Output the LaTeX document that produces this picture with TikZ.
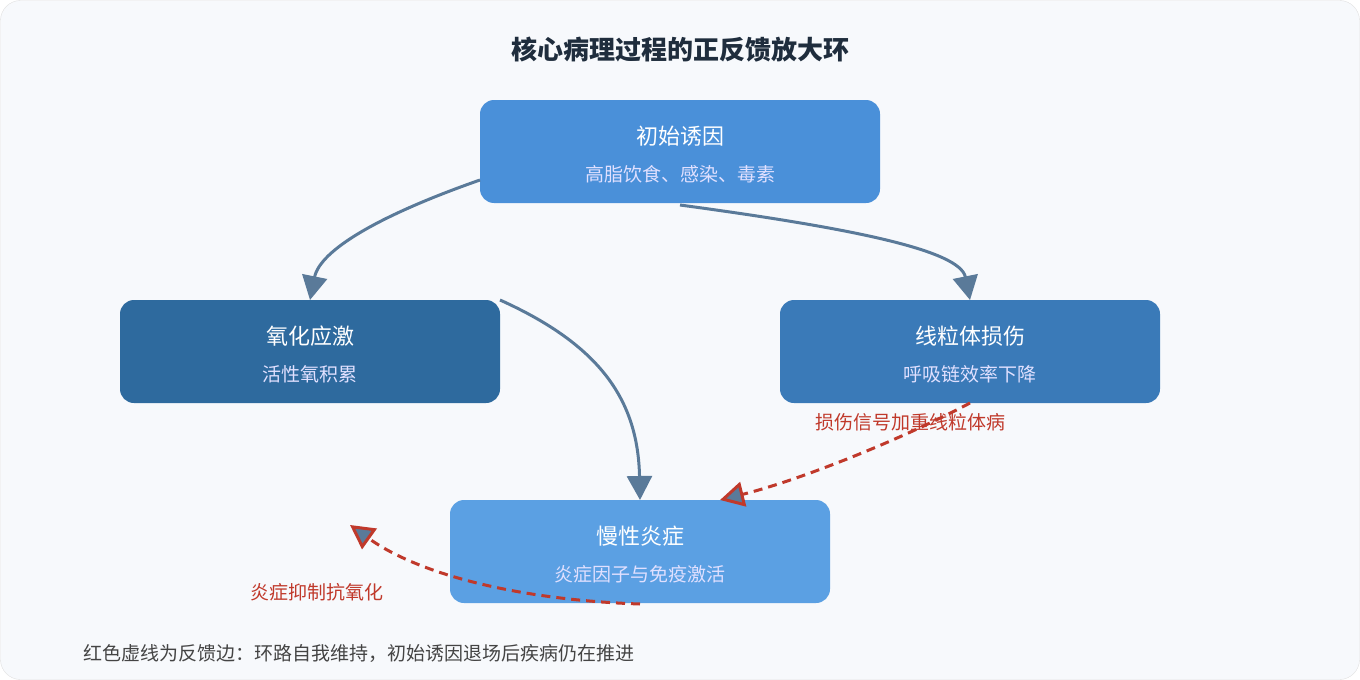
\documentclass[tikz,border=0pt]{standalone}
\usepackage{fontspec}
\setmainfont{Noto Sans CJK SC}
\usetikzlibrary{arrows.meta}
\definecolor{bg}{HTML}{F7F9FC}
\definecolor{ctop}{HTML}{4A90D9}
\definecolor{cleft}{HTML}{2E6A9E}
\definecolor{cright}{HTML}{3A7AB8}
\definecolor{cbot}{HTML}{5BA0E3}
\definecolor{edge}{HTML}{5A7A99}
\definecolor{fb}{HTML}{C0392B}
\definecolor{ttl}{HTML}{1F2D3D}
\definecolor{foot}{HTML}{444444}
\begin{document}
\begin{tikzpicture}[x=1pt,y=-1pt,
  box/.style={rounded corners=14pt,minimum width=380pt,minimum height=103pt,inner sep=0pt,text=white,align=center,font=\fontsize{22}{30}\selectfont},
  sub/.style={font=\fontsize{19}{24}\selectfont,text=white!88!blue},
  flow/.style={draw=edge,line width=3pt,-{Triangle[width=25pt,length=24pt]}},
  back/.style={draw=fb,line width=3pt,dash pattern=on 9pt off 6pt,-{Triangle[width=25pt,length=24pt,fill=edge]}},
  lab/.style={text=fb,font=\fontsize{19}{24}\selectfont}]
\useasboundingbox (0,0) rectangle (1360,680);
\fill[bg,draw=black!12,rounded corners=20pt] (0.5,0.5) rectangle (1359.5,679.5);
\node[font=\bfseries\fontsize{26}{30}\selectfont,text=ttl] (title) at (680,50) {核心病理过程的正反馈放大环};
\node[box,fill=ctop,minimum width=400pt] (top) at (680,151.5) {};
\node at (680,136) {\color{white}\fontsize{22}{26}\selectfont 初始诱因};
\node[sub] at (680,174) {高脂饮食、感染、毒素};
\node[box,fill=cleft] (left) at (310,351.5) {};
\node at (310,336) {\color{white}\fontsize{22}{26}\selectfont 氧化应激};
\node[sub] at (310,374) {活性氧积累};
\node[box,fill=cright] (right) at (970,351.5) {};
\node at (970,336) {\color{white}\fontsize{22}{26}\selectfont 线粒体损伤};
\node[sub] at (970,374) {呼吸链效率下降};
\node[box,fill=cbot] (bot) at (640,551.5) {};
\node at (640,536) {\color{white}\fontsize{22}{26}\selectfont 慢性炎症};
\node[sub] at (640,574) {炎症因子与免疫激活};
\coordinate (a1) at (480,180); \coordinate (a2) at (680,205); \coordinate (a3) at (500,300);
\coordinate (b1) at (970,403); \coordinate (b2) at (640,604);
\draw[flow] (a1) .. controls (380,215) and (320,250) .. (310,300);
\draw[flow] (a2) .. controls (850,228) and (960,250) .. (970,300);
\draw[flow] (a3) .. controls (600,345) and (638,400) .. (640,500);
\draw[back] (b1) .. controls (900,440) and (800,480) .. (720,500);
\draw[back] (b2) .. controls (520,600) and (420,575) .. (350,525);
\node[lab] (l1) at (910,422) {损伤信号加重线粒体病};
\node[lab] (l2) at (317,592) {炎症抑制抗氧化};
\node[anchor=west,text=foot,font=\fontsize{19}{24}\selectfont] (ft) at (80,653) {红色虚线为反馈边：环路自我维持，初始诱因退场后疾病仍在推进};
\end{tikzpicture}
\end{document}
